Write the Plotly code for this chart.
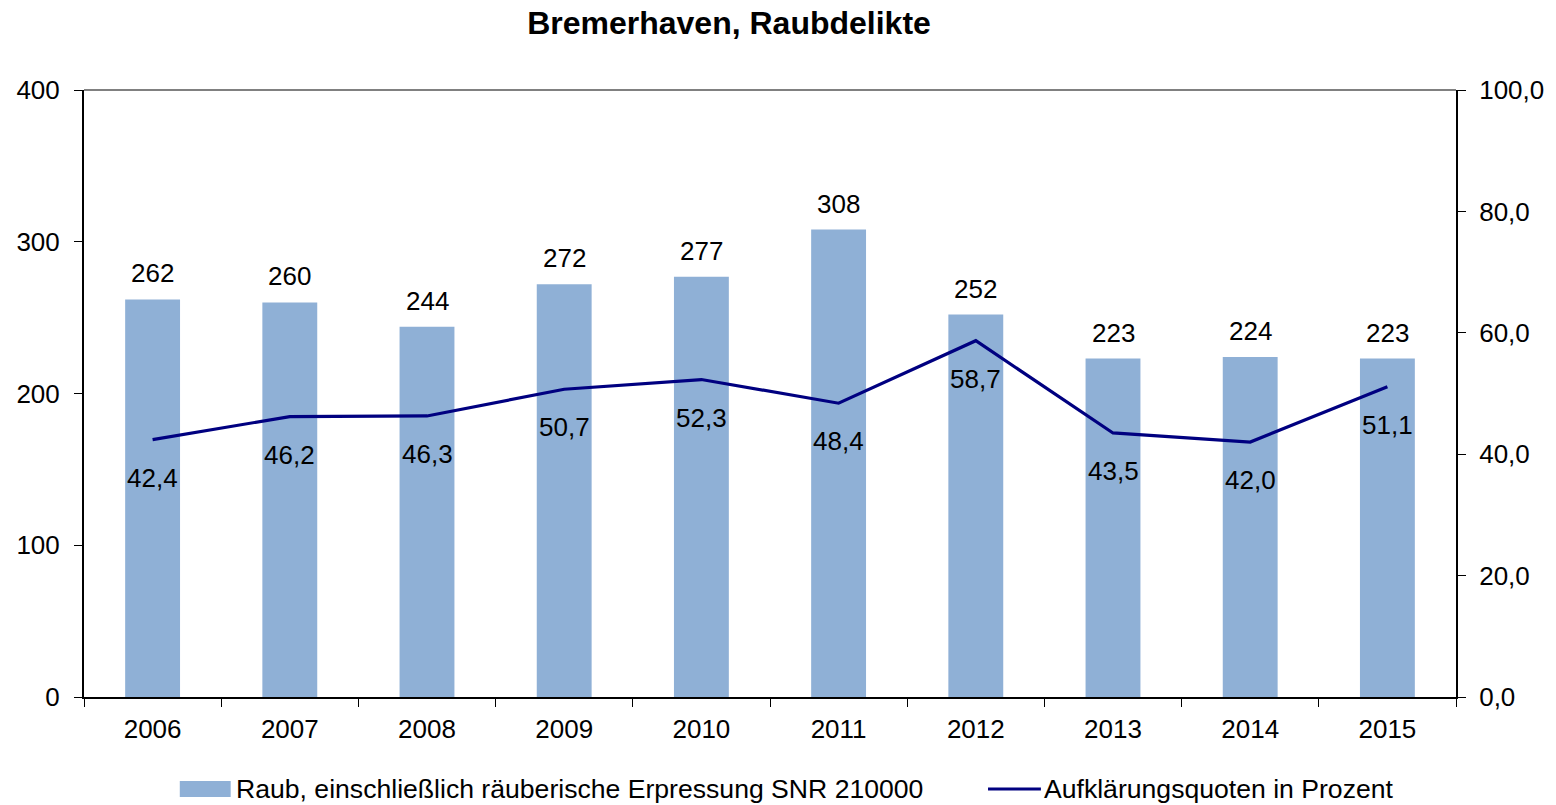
import plotly.graph_objects as go

years = ["2006", "2007", "2008", "2009", "2010", "2011", "2012", "2013", "2014", "2015"]
raub = [262, 260, 244, 272, 277, 308, 252, 223, 224, 223]
quote = [42.4, 46.2, 46.3, 50.7, 52.3, 48.4, 58.7, 43.5, 42.0, 51.1]

bar_name = "Raub, einschließlich räuberische Erpressung SNR 210000"
line_name = "Aufklärungsquoten in Prozent"

FONT = "Liberation Sans, Arial, sans-serif"
BAR_COLOR = "#8FB0D6"
LINE_COLOR = "#000080"
FS = 26

# plot-area geometry in pixels (for the hand-drawn legend)
W, H = 1556, 805
ML, MR, MT, MB = 84, 97, 90, 108
PW, PH = W - ML - MR, H - MT - MB


def px_x(px):
    return (px - ML) / PW


def px_y(py):
    return (H - MB - py) / PH


fig = go.Figure()
fig.add_trace(go.Bar(
    x=years, y=raub, name=bar_name,
    marker=dict(color=BAR_COLOR, line=dict(width=0)),
    width=0.4, yaxis="y",
))
fig.add_trace(go.Scatter(
    x=years, y=quote, name=line_name, mode="lines",
    line=dict(color=LINE_COLOR, width=3.2), yaxis="y2",
))

# value labels above bars (category index positions)
for i, v in enumerate(raub):
    fig.add_annotation(x=i, y=v, xref="x", yref="y", text=str(v),
                       showarrow=False, yanchor="bottom", yshift=9,
                       font=dict(size=FS, color="black", family=FONT))
# rate labels below line points
for i, v in enumerate(quote):
    fig.add_annotation(x=i, y=v, xref="x", yref="y2",
                       text=f"{v:.1f}".replace(".", ","),
                       showarrow=False, yanchor="top", yshift=-21,
                       font=dict(size=FS, color="black", family=FONT))

# grey frame line along the top of the plot area
fig.add_shape(type="line", xref="paper", yref="paper", x0=0, x1=1, y0=1, y1=1,
              line=dict(color="#808080", width=2))

# legend: wide swatches with labels
ly = px_y(789)
fig.add_shape(type="rect", xref="paper", yref="paper",
              x0=px_x(180), x1=px_x(231), y0=px_y(797), y1=px_y(781),
              fillcolor=BAR_COLOR, line=dict(width=0))
fig.add_annotation(x=px_x(234), y=ly, xref="paper", yref="paper", text=bar_name,
                   showarrow=False, xanchor="left", yanchor="middle",
                   font=dict(size=26.6, color="black", family=FONT))
fig.add_shape(type="line", xref="paper", yref="paper",
              x0=px_x(990), x1=px_x(1043), y0=ly, y1=ly,
              line=dict(color=LINE_COLOR, width=3.2))
fig.add_annotation(x=px_x(1044), y=ly, xref="paper", yref="paper", text=line_name,
                   showarrow=False, xanchor="left", yanchor="middle",
                   font=dict(size=26.6, color="black", family=FONT))

fig.update_layout(
    width=W, height=H,
    margin=dict(l=ML, r=MR, t=MT, b=MB),
    paper_bgcolor="white", plot_bgcolor="white",
    separators=",.",
    font=dict(family=FONT, size=FS, color="black"),
    title=dict(text="<b>Bremerhaven, Raubdelikte</b>", x=729 / W, xanchor="center",
               y=1 - 23 / H, yanchor="middle", font=dict(size=32, family=FONT)),
    showlegend=False,
    xaxis=dict(type="category", categoryorder="array", categoryarray=years,
               range=[-0.5, len(years) - 0.5], tickangle=0,
               showline=True, linecolor="black", linewidth=2,
               ticks="outside", ticklen=8, tickcolor="black", tickson="boundaries",
               ticklabelstandoff=8,
               tickfont=dict(size=FS), showgrid=False, zeroline=False),
    yaxis=dict(range=[0, 400], tickvals=[0, 100, 200, 300, 400], showline=True,
               linecolor="black", linewidth=2, ticks="outside", ticklen=8,
               tickcolor="black", tickfont=dict(size=FS), showgrid=False,
               ticklabelstandoff=9, zeroline=False),
    yaxis2=dict(range=[0, 100], tickvals=[0, 20, 40, 60, 80, 100], tickformat=".1f",
                overlaying="y", side="right", showline=True, linecolor="black",
                linewidth=2, ticks="outside", ticklen=8, tickcolor="black",
                ticklabelstandoff=8,
                tickfont=dict(size=FS), showgrid=False, zeroline=False),
)

fig.write_html("out.html")
